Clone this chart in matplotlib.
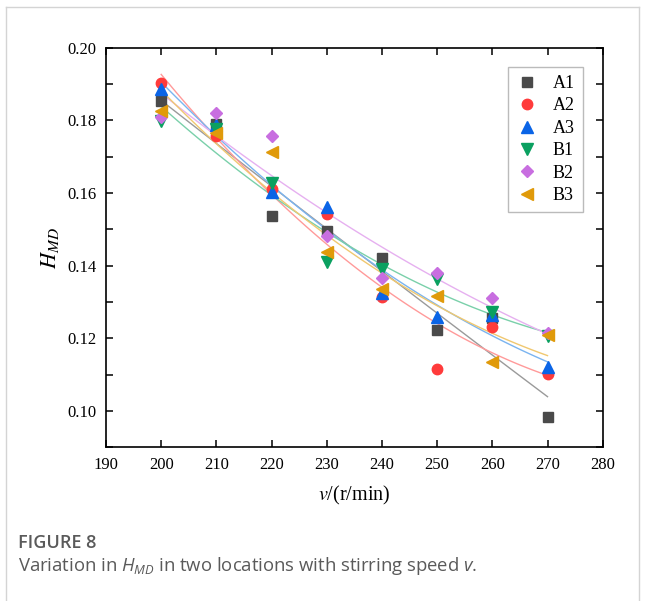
import numpy as np
import matplotlib
matplotlib.use("Agg")
import matplotlib.pyplot as plt
from matplotlib.lines import Line2D
from matplotlib.ticker import MultipleLocator, FixedLocator, FormatStrFormatter

speeds = [200, 210, 220, 230, 240, 250, 260, 270]
A1 = [0.1854, 0.1790, 0.1538, 0.1495, 0.1420, 0.1223, 0.1255, 0.0984]
A2 = [0.1902, 0.1758, 0.1610, 0.1541, 0.1313, 0.1115, 0.1232, 0.1102]
A3 = [0.1885, 0.1787, 0.1604, 0.1561, 0.1324, 0.1260, 0.1264, 0.1120]
B1 = [0.1799, 0.1775, 0.1628, 0.1411, 0.1390, 0.1362, 0.1273, 0.1207]
B2 = [0.1808, 0.1819, 0.1757, 0.1483, 0.1367, 0.1379, 0.1310, 0.1214]
B3 = [0.1827, 0.1766, 0.1712, 0.1438, 0.1335, 0.1317, 0.1136, 0.1209]

names = ["A1", "A2", "A3", "B1", "B2", "B3"]
series = [A1, A2, A3, B1, B2, B3]
markers = ["s", "o", "^", "v", "D", "<"]
msizes = [6.5, 7.5, 8, 8, 6.5, 8]
colors = ["#4a4a4a", "#ff3b3b", "#0a64e6", "#0aa060", "#c86ee0", "#e09a0a"]
fitcolors = ["#9a9a9a", "#ff9a9a", "#7ab4f0", "#7ad0aa", "#e6b0f0", "#f0c870"]

plt.rcParams["font.family"] = ["Liberation Serif", "DejaVu Serif"]
plt.rcParams["mathtext.fontset"] = "stix"
plt.rcParams["mathtext.it"] = "Open Sans:italic"
plt.rcParams["mathtext.rm"] = "Open Sans"

fig = plt.figure(figsize=(6.45, 6.01), dpi=100)
ax = fig.add_axes([106 / 645, 1 - 447.3 / 601, (602.7 - 106) / 645, (447.3 - 47.7) / 601])

x = np.array(speeds, dtype=float)
xf = np.linspace(200, 270, 100)
for y, fc in zip(series, fitcolors):
    coef = np.polyfit(x, np.array(y), 2)
    ax.plot(xf, np.polyval(coef, xf), color=fc, lw=1.0, zorder=2)
for name, y, m, ms, c in zip(names, series, markers, msizes, colors):
    ax.plot(x, y, linestyle="none", marker=m, ms=ms, color=c, mec=c, label=name, zorder=3)

ax.set_xlim(190, 280)
ax.set_ylim(0.09, 0.20)
ax.xaxis.set_major_locator(MultipleLocator(10))
ax.yaxis.set_major_locator(FixedLocator([0.10, 0.12, 0.14, 0.16, 0.18, 0.20]))
ax.yaxis.set_minor_locator(FixedLocator([0.09, 0.11, 0.13, 0.15, 0.17, 0.19]))
ax.yaxis.set_major_formatter(FormatStrFormatter("%.2f"))
ax.xaxis.set_major_formatter(FormatStrFormatter("%d"))
ax.tick_params(which="both", direction="in", top=True, right=True, length=5, width=1.1,
               labelsize=12, pad=7)
for lab in ax.get_xticklabels() + ax.get_yticklabels():
    lab.set_family("Liberation Serif")
for s in ax.spines.values():
    s.set_linewidth(1.2)

ax.set_xlabel(r"$v$/(r/min)", fontsize=14.5, labelpad=8)
ax.set_ylabel(r"$H_{MD}$", fontsize=16, labelpad=4)

leg = ax.legend(loc="upper right", bbox_to_anchor=(0.960, 0.952), fontsize=13,
                frameon=True, fancybox=False, edgecolor="#aaaaaa", labelspacing=0.3,
                handletextpad=0.8, borderpad=0.45, handlelength=1.2, borderaxespad=0)
leg.get_frame().set_linewidth(1.0)

# outer frame
gray = "#d4d4d4"
fig.add_artist(Line2D([6 / 645, 6 / 645], [0, 1 - 7 / 601], color=gray, lw=1.0))
fig.add_artist(Line2D([6 / 645, 639 / 645], [1 - 7 / 601, 1 - 7 / 601], color=gray, lw=1.0))
fig.add_artist(Line2D([639 / 645, 639 / 645], [0, 1 - 7 / 601], color=gray, lw=1.0))

fig.text(18 / 645, 1 - 543 / 601, "FIGURE 8", family="Open Sans", fontsize=13,
         fontweight="semibold", color="#5a5a5a", va="center")
fig.text(18 / 645, 1 - 566 / 601,
         r"Variation in $H_{MD}$ in two locations with stirring speed $v$.",
         family="Open Sans", fontsize=13.3, color="#5a5a5a", va="center",
         math_fontfamily="custom")

fig.savefig("out.png", dpi=100)
